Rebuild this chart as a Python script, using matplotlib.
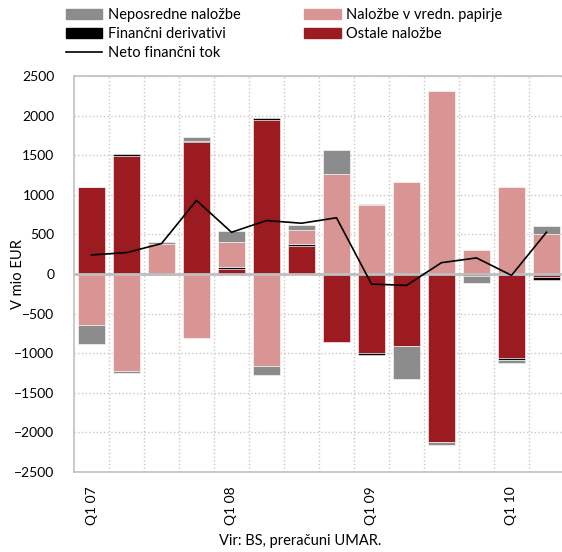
import numpy as np
import matplotlib.pyplot as plt
from matplotlib.patches import Patch
from matplotlib.lines import Line2D

plt.rcParams['font.family'] = ['Lato', 'DejaVu Sans']

quarters = ["Q1 07", "Q2 07", "Q3 07", "Q4 07", "Q1 08", "Q2 08", "Q3 08",
            "Q4 08", "Q1 09", "Q2 09", "Q3 09", "Q4 09", "Q1 10", "Q2 10"]
tick_labels = ["Q1 07", "", "", "", "Q1 08", "", "", "",
               "Q1 09", "", "", "", "Q1 10", ""]

ostale = [1100, 1490, 0, 1670, 65, 1950, 355, -860, -1000, -905, -2125, 0, -1055, -35]
derivativi = [0, 20, -15, 15, 28, 15, 20, 0, -28, 0, 0, -30, -28, -35]
vrednostni = [-645, -1220, 385, -810, 317, -1160, 185, 1265, 870, 1157, 2310, 305, 1103, 507]
neposredne = [-235, -25, 15, 50, 127, -120, 65, 295, 12, -418, -40, -80, -35, 105]
neto = [241, 270, 384, 929, 527, 675, 641, 710, -127, -144, 143, 203, -17, 527]

series = [
    ("Ostale naložbe", ostale, "#9B1B20"),
    ("Finančni derivativi", derivativi, "#000000"),
    ("Naložbe v vredn. papirje", vrednostni, "#D99594"),
    ("Neposredne naložbe", neposredne, "#8C8C8C"),
]

fig = plt.figure(figsize=(5.62, 5.52), dpi=100)
ax = fig.add_axes([74 / 562, 1 - 472 / 552, 490 / 562, 396 / 552])

x = np.arange(len(quarters))
pos_bottom = np.zeros(len(x))
neg_bottom = np.zeros(len(x))
for name, vals, color in series:
    vals = np.array(vals, dtype=float)
    bottom = np.where(vals >= 0, pos_bottom, neg_bottom)
    ax.bar(x, vals, bottom=bottom, width=0.78, color=color,
           edgecolor="white", linewidth=0.4, zorder=3)
    pos_bottom += np.where(vals >= 0, vals, 0)
    neg_bottom += np.where(vals < 0, vals, 0)

ax.plot(x, neto, color="black", linewidth=1.2, zorder=5)
ax.axhline(0, color="#BFBFBF", linewidth=2, zorder=4)

ax.set_xlim(-0.5, len(x) - 0.5)
ax.set_ylim(-2500, 2500)
ax.set_yticks(np.arange(-2500, 2501, 500))
ax.set_xticks(x)
ax.set_xticklabels(tick_labels, rotation=90, fontsize=10)
ax.set_xticks(np.arange(0.5, len(x) - 0.5, 1), minor=True)
ax.tick_params(axis="both", which="both", length=0)
ax.tick_params(axis="y", labelsize=10, pad=14)
ax.tick_params(axis="x", pad=10)

ax.grid(True, axis="y", color="#C8C8C8", linestyle=":", linewidth=1, zorder=0)
ax.grid(True, axis="x", which="minor", color="#C8C8C8", linestyle=":", linewidth=1, zorder=0)
for side in ["top", "left", "bottom"]:
    ax.spines[side].set_color("#C0C0C0")
    ax.spines[side].set_linewidth(1.2)
ax.spines["right"].set_visible(False)

ax.set_ylabel("V mio EUR", fontsize=10.5)
ax.yaxis.set_label_coords(-0.10, 0.5)

handles = [
    Patch(color="#8C8C8C", label="Neposredne naložbe"),
    Patch(color="#000000", label="Finančni derivativi"),
    Line2D([0], [0], color="black", linewidth=1.2, label="Neto finančni tok"),
    Patch(color="#D99594", label="Naložbe v vredn. papirje"),
    Patch(color="#9B1B20", label="Ostale naložbe"),
]
fig.legend(handles=handles, ncol=2, loc="upper left",
           bbox_to_anchor=(66 / 562, 1 - 8 / 552), frameon=False,
           fontsize=10.5, handlelength=2.5, handletextpad=0.35,
           columnspacing=4.4, labelspacing=0.35, borderpad=0, borderaxespad=0)

fig.text(300 / 562, 1 - 541 / 552, "Vir: BS, preračuni UMAR.",
         ha="center", va="center", fontsize=10.5)

fig.savefig("out.png", dpi=100)
